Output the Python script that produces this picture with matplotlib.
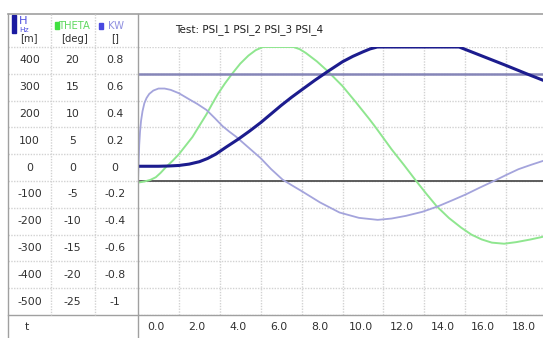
import matplotlib
matplotlib.use('Agg')
import matplotlib.pyplot as plt
import matplotlib.transforms as mtransforms
from matplotlib.lines import Line2D
from matplotlib.patches import Rectangle

# values
h_t = [0, 1, 1.5, 2, 2.5, 3, 3.4, 3.8, 4.3, 4.9, 5.45, 6, 6.5, 7, 7.5, 8, 8.65, 9.3, 10, 10.5,
       11, 11.35, 11.7, 15.7, 17, 18, 19, 19.8]
h_val = [55, 55, 56, 58, 63, 72, 84, 100, 126, 156, 186, 218, 250, 282, 312, 340, 376, 410, 445, 465,
         482, 493, 500, 500, 461, 431, 400, 376]

theta_t = [0, 0.3, 0.6, 0.87, 1.1, 1.37, 1.7, 2, 2.33, 2.66, 3.0, 3.34, 3.6, 3.9, 4.25, 4.6, 5.0, 5.4,
           5.75, 6.1, 7.6, 7.9, 8.2, 8.75, 9.3, 10, 10.65, 11.3, 11.6, 12.0, 12.4, 13.0, 13.6, 14.1,
           14.6, 15.2, 15.8, 16.3, 16.8, 17.3, 17.9, 18.5, 19.2, 19.8]
theta_val = [-0.3, -0.1, 0.2, 0.7, 1.5, 2.6, 3.8, 5.0, 6.6, 8.2, 10.3, 12.4, 14.2, 16.2, 18.2, 20, 21.9,
             23.4, 24.4, 25, 25, 24.6, 23.9, 22.3, 20.4, 17.7, 14.7, 11.6, 10.1, 8.0, 5.9, 3.0, 0, -2.4,
             -4.7, -6.9, -8.7, -10.0, -10.9, -11.5, -11.7, -11.4, -10.9, -10.4]

kw_t = [0, 0.03, 0.06, 0.1, 0.15, 0.22, 0.31, 0.42, 0.55, 0.75, 1.0, 1.3, 1.6, 2.0, 2.5, 2.9, 3.35,
        3.75, 4.13, 4.45, 4.8, 5.4, 6, 6.5, 7.07, 7.5, 8.05, 8.9, 9.85, 10.8, 11.72, 12.4, 13.1, 13.9,
        14.65, 15.35, 16.03, 16.7, 17.4, 18.0, 18.6, 19.2, 19.8]
kw_val = [0, 0.14, 0.27, 0.37, 0.45, 0.52, 0.58, 0.62, 0.65, 0.675, 0.69, 0.69, 0.68, 0.655, 0.61,
          0.575, 0.53, 0.47, 0.41, 0.37, 0.33, 0.25, 0.17, 0.09, 0.01, -0.03, -0.08, -0.16, -0.235,
          -0.275, -0.29, -0.28, -0.26, -0.23, -0.19, -0.145, -0.10, -0.05, 0, 0.045, 0.088, 0.12, 0.15]
kw_limit = 0.8

h_labels = [400, 300, 200, 100, 0, -100, -200, -300, -400, -500]
theta_labels = [20, 15, 10, 5, 0, -5, -10, -15, -20, -25]
kw_labels = ['0.8', '0.6', '0.4', '0.2', '0', '-0.2', '-0.4', '-0.6', '-0.8', '-1']
t_ticks = [0, 2, 4, 6, 8, 10, 12, 14, 16, 18]
title = 'Test: PSI_1 PSI_2 PSI_3 PSI_4'

W, HP = 543, 338
fig = plt.figure(figsize=(W / 100, HP / 100), dpi=100)


def fx(x):
    return x / W


def fy(y):
    return 1 - y / HP


grid_col = '#d2d2d2'
grid_ls = (0, (1, 1))
border_col = '#a0a0a0'
text_col = '#303030'

ax = fig.add_axes([fx(138), fy(315), fx(543) - fx(138), fy(47) - fy(315)])
ax.set_xlim(0, 19.8)
ax.set_ylim(-500, 500)
ax.set_xticks(t_ticks[1:])
ax.set_yticks(range(-500, 501, 100))
ax.tick_params(length=0, labelbottom=False, labelleft=False)
for s in ax.spines.values():
    s.set_visible(False)
ax.grid(True, color=grid_col, linestyle=grid_ls, linewidth=1.0)
ax.axhline(0, color='#505050', linewidth=1.3)

ax_theta = ax.twinx()
ax_theta.set_ylim(-25, 25)
ax_theta.axis('off')
ax_theta.plot(theta_t, theta_val, color='#8fe68f', linewidth=1.4)

ax_kw = ax.twinx()
ax_kw.set_ylim(-1, 1)
ax_kw.axis('off')
ax_kw.axhline(kw_limit, color='#8686b8', linewidth=1.8)
ax_kw.plot(kw_t, kw_val, color='#a4a4dc', linewidth=1.3)

ax_h = ax.twinx()
ax_h.set_ylim(-500, 500)
ax_h.axis('off')
ax_h.plot(h_t, h_val, color='#1c1c8e', linewidth=2.2)

# table on the left
yrow = mtransforms.blended_transform_factory(fig.transFigure, ax.transData)
for v in range(-400, 501, 100):
    fig.add_artist(Line2D([fx(7.5), fx(138)], [v, v], transform=yrow, color=grid_col,
                          linestyle=grid_ls, linewidth=1.0))
for i in range(len(h_labels)):
    yv = h_labels[i] + 50
    fig.text(fx(29.5), yv, str(h_labels[i]), transform=yrow, ha='center', va='center',
             fontsize=7.8, color=text_col)
    fig.text(fx(72.5), yv, str(theta_labels[i]), transform=yrow, ha='center', va='center',
             fontsize=7.8, color=text_col)
    fig.text(fx(115), yv, kw_labels[i], transform=yrow, ha='center', va='center',
             fontsize=7.8, color=text_col)

# borders
fig.add_artist(Line2D([fx(7.5), fx(543)], [fy(14), fy(14)], color=border_col, linewidth=1.2))
fig.add_artist(Line2D([fx(7.5), fx(543)], [fy(315), fy(315)], color=border_col, linewidth=1.0))
fig.add_artist(Line2D([fx(7.5), fx(7.5)], [fy(14), 0], color=border_col, linewidth=1.0))
fig.add_artist(Line2D([fx(138), fx(138)], [fy(14), 0], color=border_col, linewidth=1.0))
for xd in [51, 95]:
    fig.add_artist(Line2D([fx(xd), fx(xd)], [fy(14), fy(315)], color=grid_col,
                          linestyle=grid_ls, linewidth=1.0))

# header
fig.add_artist(Rectangle((fx(11.5), fy(33)), fx(4.5), fy(15) - fy(33), color='#1a1aa0'))
fig.text(fx(18.5), fy(21), 'H', fontsize=8.2, color='#5050e0', ha='left', va='center')
fig.text(fx(19), fy(29.5), 'Hz', fontsize=5.4, color='#5050e0', ha='left', va='center')
fig.text(fx(28.5), fy(38.5), '[m]', fontsize=7.2, color=text_col, ha='center', va='center')
fig.add_artist(Rectangle((fx(55), fy(28.5)), fx(3.5), fy(22.5) - fy(28.5), color='#40e040'))
fig.text(fx(58.5), fy(26), 'THETA', fontsize=7.2, color='#60d860', ha='left', va='center')
fig.text(fx(74), fy(38.5), '[deg]', fontsize=7.2, color=text_col, ha='center', va='center')
fig.add_artist(Rectangle((fx(99), fy(29)), fx(3.5), fy(23) - fy(29), color='#4848e0'))
fig.text(fx(108), fy(26), 'KW', fontsize=7.2, color='#9090e0', ha='left', va='center')
fig.text(fx(115), fy(38.5), '[]', fontsize=7.2, color=text_col, ha='center', va='center')

fig.text(fx(175), fy(30), title, fontsize=7.5, color='#202020', ha='left', va='center')

# bottom row
fig.text(fx(27), fy(327), 't', fontsize=7.8, color=text_col, ha='center', va='center')
xrow = mtransforms.blended_transform_factory(ax.transData, fig.transFigure)
for t in t_ticks:
    ax.text(t + 0.88, fy(327), '%.1f' % t, transform=xrow, ha='center', va='center',
            fontsize=7.8, color=text_col, clip_on=False)

fig.savefig('out.png', dpi=100)
